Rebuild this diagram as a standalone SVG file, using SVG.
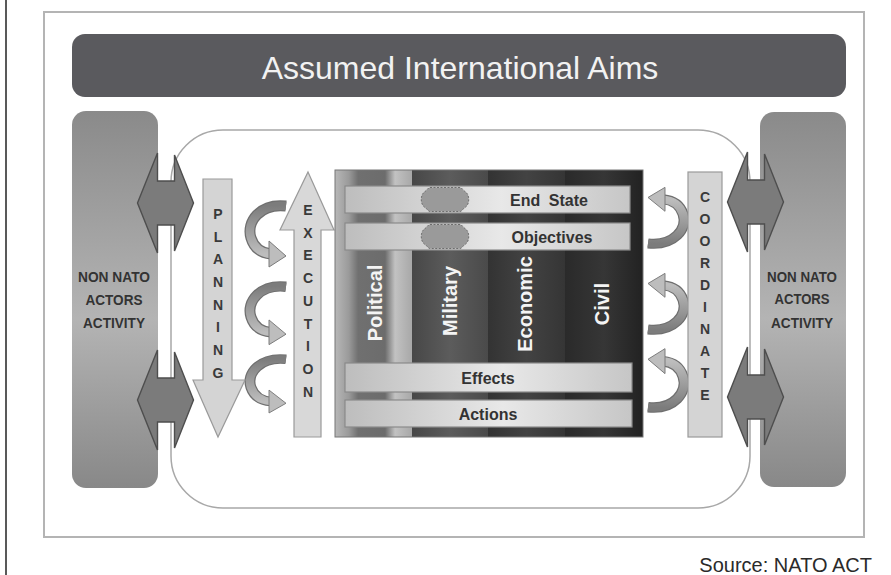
<svg xmlns="http://www.w3.org/2000/svg" xmlns:xlink="http://www.w3.org/1999/xlink" width="891" height="575" viewBox="0 0 891 575">
<style>
.t{font-family:"Liberation Sans",Arial,sans-serif;font-weight:bold;fill:#333}
.let{font-family:"Liberation Sans",Arial,sans-serif;font-weight:bold;fill:#3a3a3a;font-size:14px;text-anchor:middle}
.col{font-family:"Liberation Sans",Arial,sans-serif;font-weight:bold;fill:#f4f4f4;font-size:20px;text-anchor:middle}
.bar{stroke:#8a8a8a;stroke-width:1.2;fill:url(#gBar)}
.dbl{fill:#7b7b7b;stroke:#4e4e4e;stroke-width:1.4}
.conn{fill:#9a9a9a;stroke:#6e6e6e;stroke-width:1;stroke-dasharray:2 1.5}
.na{font-family:"Liberation Sans",Arial,sans-serif;font-weight:bold;fill:#333;font-size:14px;text-anchor:middle}
</style>
<defs>
<linearGradient id="gPillar" x1="0" y1="0" x2="0" y2="1">
<stop offset="0" stop-color="#8a8a8a"/><stop offset="0.55" stop-color="#b4b4b4"/><stop offset="1" stop-color="#888"/>
</linearGradient>
<linearGradient id="gBar" x1="0" y1="0" x2="1" y2="0">
<stop offset="0" stop-color="#bdbdbd"/><stop offset="0.55" stop-color="#e8e8e8"/><stop offset="1" stop-color="#c6c6c6"/>
</linearGradient>
<linearGradient id="gPol" x1="0" y1="0" x2="1" y2="0">
<stop offset="0" stop-color="#b8b8b8"/><stop offset="0.18" stop-color="#9a9a9a"/><stop offset="0.3" stop-color="#707070"/><stop offset="0.65" stop-color="#6c6c6c"/><stop offset="0.78" stop-color="#c2c2c2"/><stop offset="1" stop-color="#a8a8a8"/>
</linearGradient>
<linearGradient id="gMil" x1="0" y1="0" x2="1" y2="0">
<stop offset="0" stop-color="#474747"/><stop offset="0.5" stop-color="#5c5c5c"/><stop offset="1" stop-color="#4a4a4a"/>
</linearGradient>
<linearGradient id="gEco" x1="0" y1="0" x2="1" y2="0">
<stop offset="0" stop-color="#333"/><stop offset="0.5" stop-color="#434343"/><stop offset="1" stop-color="#353535"/>
</linearGradient>
<linearGradient id="gCiv" x1="0" y1="0" x2="1" y2="0">
<stop offset="0" stop-color="#2a2a2a"/><stop offset="0.5" stop-color="#363636"/><stop offset="1" stop-color="#222"/>
</linearGradient>
<linearGradient id="gCurl" x1="0" y1="0" x2="0" y2="1">
<stop offset="0" stop-color="#7c7c7c"/><stop offset="1" stop-color="#bdbdbd"/>
</linearGradient>
<g id="curl">
<path d="M38,6 C12,3 -2,22 3,38 C6,48 13,53 23,54" fill="none" stroke="#6f6f6f" stroke-width="11"/>
<path d="M38,6 C12,3 -2,22 3,38 C6,48 13,53 23,54" fill="none" stroke="url(#gCurl)" stroke-width="8.5"/>
<polygon points="21,41 38,56 21,67" fill="#bdbdbd" stroke="#7a7a7a" stroke-width="1"/>
</g>
<polygon id="dbl" points="-28,0 -8,-50 -8,-22 9,-22 9,-48 28,0 9,48 9,22 -8,22 -8,50"/>
<path id="piece" d="M-15,-12 H15 C17,-12 18,-9 20,-8 C25,-5 25,5 20,8 C18,9 17,12 15,12 H-15 C-17,12 -18,9 -20,8 C-25,5 -25,-5 -20,-8 C-18,-9 -17,-12 -15,-12 Z"/>
</defs>
<rect width="891" height="575" fill="#fff"/>
<line x1="6" y1="0" x2="6" y2="575" stroke="#222" stroke-width="1.5"/>
<rect x="44" y="12" width="820" height="525" fill="#fff" stroke="#b4b4b4" stroke-width="2"/>

<g id="title">
<rect x="72" y="34" width="774" height="63" rx="13" fill="#5a5a5e"/>
<text x="460" y="79" font-family="Liberation Sans, Arial, sans-serif" font-size="32" fill="#f2f2f2" text-anchor="middle">Assumed International Aims</text>
</g>

<g id="left-actors">
<rect x="72" y="111" width="86" height="377" rx="14" fill="url(#gPillar)"/>
<text class="na" x="114" y="282" textLength="72" lengthAdjust="spacingAndGlyphs">NON NATO</text>
<text class="na" x="114" y="305" textLength="57" lengthAdjust="spacingAndGlyphs">ACTORS</text>
<text class="na" x="114" y="328" textLength="62" lengthAdjust="spacingAndGlyphs">ACTIVITY</text>
</g>
<g id="right-actors">
<rect x="760" y="112" width="86" height="375" rx="14" fill="url(#gPillar)"/>
<text class="na" x="802" y="282" textLength="70" lengthAdjust="spacingAndGlyphs">NON NATO</text>
<text class="na" x="802" y="304" textLength="55" lengthAdjust="spacingAndGlyphs">ACTORS</text>
<text class="na" x="802" y="328" textLength="62" lengthAdjust="spacingAndGlyphs">ACTIVITY</text>
</g>

<g id="panel">
<rect x="171" y="130" width="579" height="378" rx="52" fill="#fff" stroke="#a8a8a8" stroke-width="1.5"/>
</g>

<g id="connectors">
<use xlink:href="#dbl" class="dbl" transform="translate(165.5,203)"/>
<use xlink:href="#dbl" class="dbl" transform="translate(165.5,400)"/>
<use xlink:href="#dbl" class="dbl" transform="translate(755.5,202)"/>
<use xlink:href="#dbl" class="dbl" transform="translate(755.5,397)"/>
<use xlink:href="#curl" transform="translate(248,200)"/>
<use xlink:href="#curl" transform="translate(248,281) scale(1,0.95)"/>
<use xlink:href="#curl" transform="translate(248,354) scale(1,0.88)"/>
<use xlink:href="#curl" transform="translate(686,249) rotate(180) scale(1,0.92)"/>
<use xlink:href="#curl" transform="translate(686,335) rotate(180) scale(1,0.92)"/>
<use xlink:href="#curl" transform="translate(686,413) rotate(180) scale(1,0.96)"/>
</g>

<g id="planning">
<polygon points="203,179 232,179 232,380 245,380 218,437 193,380 203,380" fill="#d4d4d4" stroke="#9a9a9a" stroke-width="1.2"/>
<text class="let" x="218" y="219">P</text>
<text class="let" x="218" y="242">L</text>
<text class="let" x="218" y="264">A</text>
<text class="let" x="218" y="287">N</text>
<text class="let" x="218" y="310">N</text>
<text class="let" x="218" y="332">I</text>
<text class="let" x="218" y="355">N</text>
<text class="let" x="218" y="378">G</text>
</g>

<g id="execution">
<polygon points="308,172 334,230 321,230 321,437 294,437 294,230 280,230" fill="#d8d8d8" stroke="#9a9a9a" stroke-width="1.2"/>
<text class="let" x="308" y="215">E</text>
<text class="let" x="308" y="238">X</text>
<text class="let" x="308" y="260">E</text>
<text class="let" x="308" y="283">C</text>
<text class="let" x="308" y="306">U</text>
<text class="let" x="308" y="329">T</text>
<text class="let" x="308" y="351">I</text>
<text class="let" x="308" y="374">O</text>
<text class="let" x="308" y="397">N</text>
</g>

<g id="coordinate">
<rect x="688" y="172" width="34" height="265" fill="#d4d4d4" stroke="#9a9a9a" stroke-width="1.2"/>
<text class="let" x="705" y="202">C</text>
<text class="let" x="705" y="224">O</text>
<text class="let" x="705" y="246">O</text>
<text class="let" x="705" y="268">R</text>
<text class="let" x="705" y="290">D</text>
<text class="let" x="705" y="312">I</text>
<text class="let" x="705" y="334">N</text>
<text class="let" x="705" y="356">A</text>
<text class="let" x="705" y="378">T</text>
<text class="let" x="705" y="400">E</text>
</g>

<g id="domains">
<rect x="335" y="170" width="77" height="267" fill="url(#gPol)"/>
<rect x="412" y="170" width="76" height="267" fill="url(#gMil)"/>
<rect x="488" y="170" width="77" height="267" fill="url(#gEco)"/>
<rect x="565" y="170" width="78" height="267" fill="url(#gCiv)"/>
<rect x="335" y="170" width="308" height="267" fill="none" stroke="#777" stroke-width="1"/>
<text class="col" transform="translate(382,303) rotate(-90)">Political</text>
<text class="col" transform="translate(457,301) rotate(-90)">Military</text>
<text class="col" transform="translate(532,304) rotate(-90)">Economic</text>
<text class="col" transform="translate(609,304) rotate(-90)">Civil</text>
</g>

<g id="end-state">
<rect class="bar" x="345" y="186" width="285" height="27"/>
<use xlink:href="#piece" class="conn" transform="translate(445,199.5)"/>
<text class="t" x="549" y="205.5" font-size="16" text-anchor="middle" word-spacing="4">End State</text>
</g>
<g id="objectives">
<rect class="bar" x="345" y="223" width="285" height="27"/>
<use xlink:href="#piece" class="conn" transform="translate(445,236.5)"/>
<text class="t" x="552" y="242.5" font-size="16" text-anchor="middle">Objectives</text>
</g>
<g id="effects">
<rect class="bar" x="345" y="363" width="287" height="29"/>
<text class="t" x="488" y="383.5" font-size="16" text-anchor="middle">Effects</text>
</g>
<g id="actions">
<rect class="bar" x="345" y="400" width="287" height="27"/>
<text class="t" x="488" y="419.5" font-size="16" text-anchor="middle">Actions</text>
</g>

<text x="872" y="572" font-family="Liberation Sans, Arial, sans-serif" font-size="20" fill="#2a2a2a" text-anchor="end">Source: NATO ACT</text>
</svg>
